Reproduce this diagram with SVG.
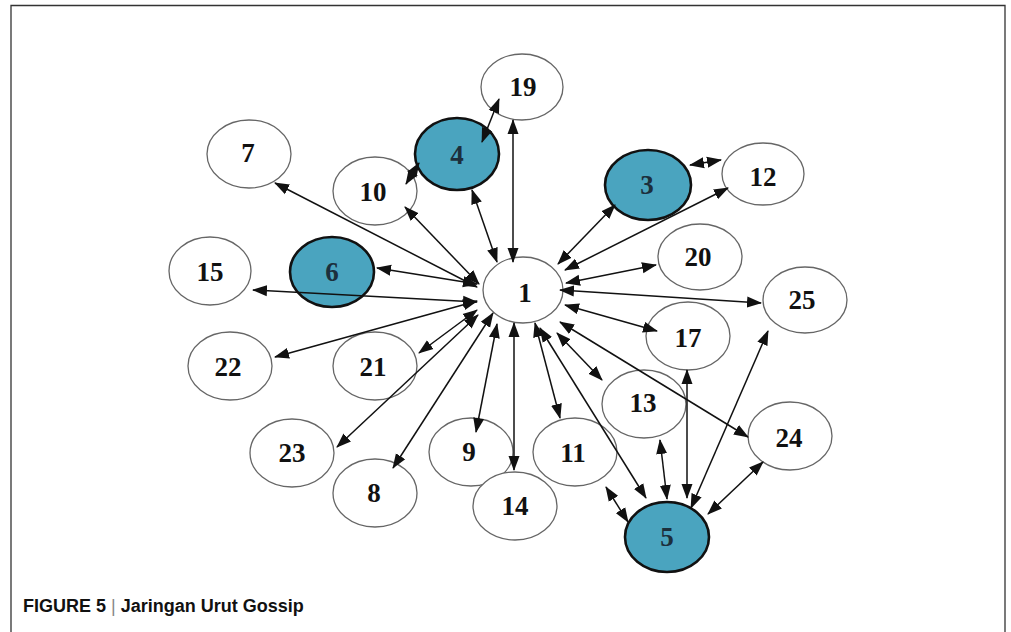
<svg xmlns="http://www.w3.org/2000/svg" width="1011" height="632" viewBox="0 0 1011 632">
<style>
.n ellipse{fill:#fff;stroke:#666;stroke-width:1.3}
.b ellipse{fill:#4aa4bf;stroke:#111;stroke-width:2.6}
text.l{font-family:"Liberation Serif","Times New Roman",serif;font-weight:bold;font-size:27px;text-anchor:middle;fill:#111}
.b text.l{fill:#1c2f3c}
#edges line{stroke:#111;stroke-width:1.5;marker-start:url(#ah);marker-end:url(#ah)}
.cap{font-family:"Liberation Sans",Arial,sans-serif;font-size:18px;font-weight:bold;fill:#111}
</style>
<defs>
<marker id="ah" markerUnits="userSpaceOnUse" markerWidth="15" markerHeight="12" refX="14" refY="5.5" orient="auto-start-reverse" viewBox="0 0 15 11">
<path d="M0,0 L15,5.5 L0,11 z" fill="#111"/>
</marker>
</defs>
<rect width="1011" height="632" fill="#fff"/>
<path d="M11,632 V5.5 H1005 V632" fill="none" stroke="#333" stroke-width="1.3"/>

<g id="n1" class="n"><ellipse cx="523" cy="290" rx="40" ry="33"/><text class="l" x="525" y="302">1</text></g>
<g id="n19" class="n"><ellipse cx="522" cy="87" rx="41" ry="33"/><text class="l" x="523" y="96">19</text></g>
<g id="n4" class="b"><ellipse cx="457" cy="154" rx="42" ry="36"/><text class="l" x="457" y="164">4</text></g>
<g id="n7" class="n"><ellipse cx="249" cy="154" rx="42" ry="34"/><text class="l" x="248" y="162">7</text></g>
<g id="n10" class="n"><ellipse cx="375" cy="191" rx="42" ry="34"/><text class="l" x="373" y="201">10</text></g>
<g id="n3" class="b"><ellipse cx="648" cy="185" rx="43" ry="35"/><text class="l" x="647" y="194">3</text></g>
<g id="n12" class="n"><ellipse cx="763" cy="174" rx="41" ry="31"/><text class="l" x="763" y="186">12</text></g>
<g id="n6" class="b"><ellipse cx="332" cy="272" rx="42" ry="35"/><text class="l" x="332" y="281">6</text></g>
<g id="n15" class="n"><ellipse cx="210" cy="271" rx="41" ry="34"/><text class="l" x="210" y="281">15</text></g>
<g id="n22" class="n"><ellipse cx="230" cy="366" rx="42" ry="34"/><text class="l" x="228" y="376">22</text></g>
<g id="n21" class="n"><ellipse cx="375" cy="366" rx="42" ry="34"/><text class="l" x="373" y="376">21</text></g>
<g id="n20" class="n"><ellipse cx="700" cy="257" rx="42" ry="33"/><text class="l" x="698" y="266">20</text></g>
<g id="n25" class="n"><ellipse cx="805" cy="300" rx="42" ry="33"/><text class="l" x="802" y="309">25</text></g>
<g id="n17" class="n"><ellipse cx="688" cy="336" rx="42" ry="34"/><text class="l" x="688" y="347">17</text></g>
<g id="n13" class="n"><ellipse cx="644" cy="404" rx="42" ry="34"/><text class="l" x="643" y="412">13</text></g>
<g id="n23" class="n"><ellipse cx="292" cy="453" rx="42" ry="34"/><text class="l" x="292" y="462">23</text></g>
<g id="n8" class="n"><ellipse cx="375" cy="493" rx="42" ry="34"/><text class="l" x="374" y="502">8</text></g>
<g id="n9" class="n"><ellipse cx="471" cy="452" rx="42" ry="34"/><text class="l" x="469" y="461">9</text></g>
<g id="n14" class="n"><ellipse cx="515" cy="506" rx="42" ry="34"/><text class="l" x="515" y="515">14</text></g>
<g id="n11" class="n"><ellipse cx="575" cy="452" rx="42" ry="34"/><text class="l" x="573" y="462">11</text></g>
<g id="n24" class="n"><ellipse cx="790" cy="436" rx="42" ry="34"/><text class="l" x="789" y="447">24</text></g>
<g id="n5" class="b"><ellipse cx="667" cy="537" rx="42" ry="35"/><text class="l" x="667" y="546">5</text></g>

<g id="edges">
<line x1="477" y1="287" x2="275" y2="183"/>
<line x1="479" y1="284" x2="405" y2="207"/>
<line x1="497" y1="262" x2="472" y2="190"/>
<line x1="513" y1="262" x2="513" y2="120"/>
<line x1="482" y1="142" x2="499" y2="99"/>
<line x1="419" y1="163" x2="406" y2="184"/>
<line x1="690" y1="165" x2="721" y2="160"/>
<line x1="558" y1="264" x2="615" y2="205"/>
<line x1="565" y1="270" x2="728" y2="188"/>
<line x1="566" y1="283" x2="656" y2="265"/>
<line x1="560" y1="290" x2="761" y2="303"/>
<line x1="565" y1="305" x2="657" y2="331"/>
<line x1="557" y1="333" x2="602" y2="380"/>
<line x1="560" y1="322" x2="748" y2="437"/>
<line x1="535" y1="323" x2="560" y2="418"/>
<line x1="540" y1="328" x2="646" y2="498"/>
<line x1="514" y1="323" x2="514" y2="470"/>
<line x1="497" y1="324" x2="476" y2="432"/>
<line x1="493" y1="313" x2="393" y2="468"/>
<line x1="478" y1="315" x2="337" y2="447"/>
<line x1="477" y1="310" x2="419" y2="353"/>
<line x1="477" y1="301" x2="275" y2="357"/>
<line x1="477" y1="302" x2="253" y2="290"/>
<line x1="477" y1="284" x2="377" y2="268"/>
<line x1="606" y1="487" x2="628" y2="522"/>
<line x1="660" y1="440" x2="667" y2="499"/>
<line x1="687" y1="370" x2="687" y2="498"/>
<line x1="768" y1="331" x2="691" y2="508"/>
<line x1="763" y1="462" x2="708" y2="514"/>
</g>

<text class="cap" x="23" y="612">FIGURE 5 <tspan font-weight="normal" fill="#888">|</tspan> Jaringan Urut Gossip</text>
</svg>
